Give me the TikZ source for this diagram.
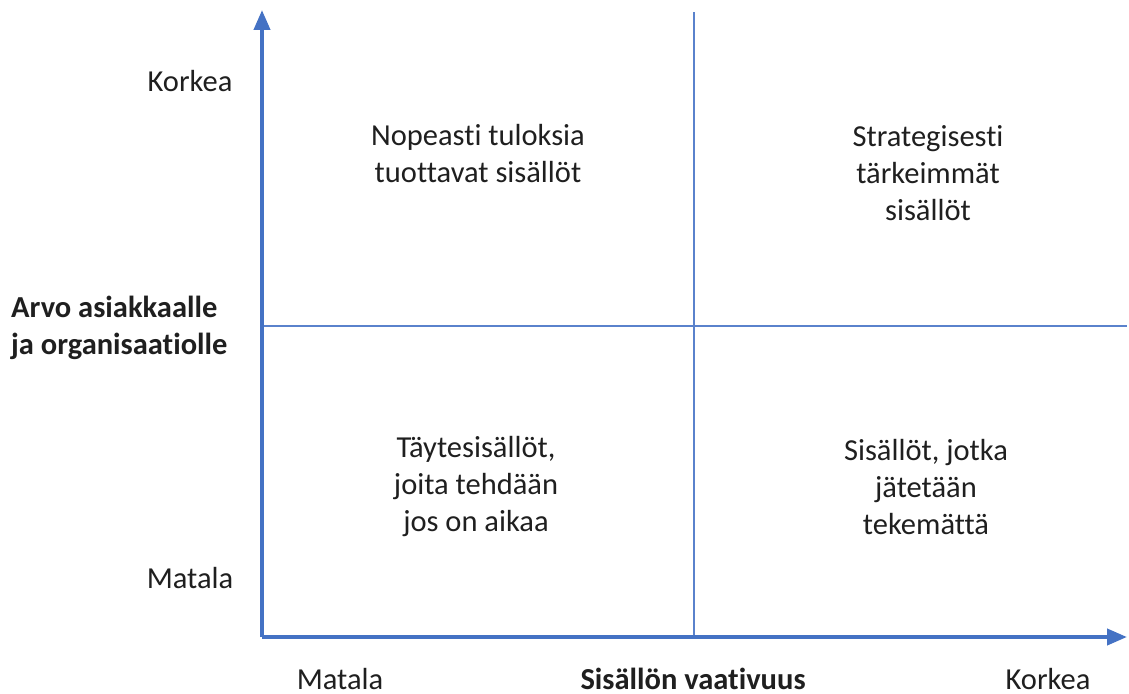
\documentclass[tikz,border=0pt]{standalone}
\usepackage{fontspec}
\setmainfont{Carlito}[Ligatures={NoCommon}]
\usetikzlibrary{arrows.meta}
\definecolor{axisblue}{HTML}{4472C4}
\definecolor{gridblue}{HTML}{5A82CC}
\tikzset{
  axis/.style={draw=axisblue, line width=4pt, -{Triangle[length=20pt,width=16pt]}},
  divider/.style={draw=gridblue, line width=1.6pt},
  lbl/.style={font=\fontsize{30.5}{37}\selectfont, text=black!88, inner sep=0pt},
  quad/.style={lbl, align=center},
  axtitle/.style={lbl, font=\fontsize{30.5}{37}\selectfont\bfseries},
}
\begin{document}
\begin{tikzpicture}[x=1pt,y=-1pt]
\useasboundingbox (0,0) rectangle (1129,693);
% corner of the axes and free ends
\coordinate (O) at (262,637);
\coordinate (ytop) at (262,10);
\coordinate (xend) at (1127,637);
\coordinate (vtop) at (694,12);
\coordinate (vbot) at (694,637);
\coordinate (hleft) at (262,326);
\coordinate (hright) at (1127,326);
% quadrant dividers
\draw[divider] (vbot) -- (vtop);
\draw[divider] (hleft) -- (hright);
% axes
\draw[axis] (O) -- (ytop);
\draw[axis] (O) -- (xend);
% axis labels
\node[lbl] (yhi) at (190,81) {Korkea};
\node[lbl] (ylo) at (190,578) {Matala};
\node[axtitle, align=left, anchor=west] (ytitle) at (11,328) {Arvo asiakkaalle\\ja organisaatiolle};
\node[lbl] (xlo) at (340,679) {Matala};
\node[axtitle] (xtitle) at (693,679) {Sisällön vaativuus};
\node[lbl] (xhi) at (1048,679) {Korkea};
% quadrant contents
\node[quad] (q1) at (478,154) {Nopeasti tuloksia\\tuottavat sisällöt};
\node[quad] (q2) at (928,173) {Strategisesti\\tärkeimmät\\sisällöt};
\node[quad] (q3) at (476,487) {Täytesisällöt,\\joita tehdään\\jos on aikaa};
\node[quad] (q4) at (926,487) {Sisällöt, jotka\\jätetään\\tekemättä};
\end{tikzpicture}
\end{document}
